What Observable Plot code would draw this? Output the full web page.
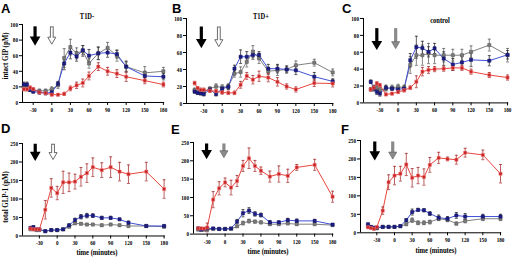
<!DOCTYPE html>
<html><head><meta charset="utf-8">
<script src="https://cdn.jsdelivr.net/npm/d3@7"></script>
<script src="https://cdn.jsdelivr.net/npm/@observablehq/plot@0.6"></script>
<style>
body{margin:0;background:#fff;}
#chart{position:relative;width:515px;height:258px;overflow:hidden;background:#fff;}
#chart svg{position:absolute;}
.lbl{position:absolute;font-family:"Liberation Serif",serif;font-weight:bold;font-size:8.3px;white-space:nowrap;color:#000;line-height:1;}
.let{position:absolute;font-family:"Liberation Sans",Arial,sans-serif;font-weight:bold;font-size:13px;line-height:1;color:#000;}
</style></head><body><div id="chart"></div>
<script>
// sampling times (minutes)
const times = [-45,-40,-35,-30,-20,-10,0,10,20,30,40,50,60,75,90,105,120,150,180];
const xTicks = [-30,0,30,60,90,120,150,180];
const gipTicks = [0,20,40,60,80,100];
const glpTicks = [0,50,100,150,200,250];

// Panel A  (T1D-, intact GIP)
const A_red     = [17,17,19,17,13,12,10,10,11,18,22,25,34,46,40,37,33,28,23];
const A_redErr  = [2,2,2,2,2,2,1.5,1.5,2,3,4,5,5,5,5,5,6,4,3];
const A_blue    = [23,23,16,14,13,12,13,24,50,64,59,67,60,63,64,62,46,34,33];
const A_blueErr = [3,3,2,2,2,2,2,3,8,8,6,6,8,8,6,5,7,6,4];
const A_gray    = [20,18,17,16,15,15,17,22,57,71,63,66,50,63,70,60,46,38,40];
const A_grayErr = [3,3,2,2,2,2,3,4,12,10,7,7,6,8,7,7,6,8,5];
// Panel B  (T1D+, intact GIP)
const B_red     = [24,18,16,16,15,14.5,13,12.5,12.5,22,32.5,28,32,30.5,25.5,20,16.5,24,23.5];
const B_redErr  = [2,2,2,2,2,2,2,2,2,4,4,5,6,5,5,3,3,4,4];
const B_blue    = [14,12.5,12,11,16.5,11,17.5,19.5,41,55,55,57,57,41,41,40,39,31.5,26];
const B_blueErr = [2,2,2,2,2,2,2,3,4,8,6,5,4,5,5,4,5,5,3];
const B_gray    = [16,15,14,14,17.5,20,19,20,35,37,49,61,53,38,39,40,45,48,36.5];
const B_grayErr = [2,2,2,2,2,3,3,3,4,6,6,7,6,4,6,4,5,4,4];
// Panel C  (control, intact GIP)
const C_red     = [16,18,23,21,10,11,13,15,18,25,37,39,40,40.5,41.5,41.5,37,33,30];
const C_redErr  = [2,2,2,2,1.5,1.5,2,2,2,7,5,4,3,3,3,3,3,3,3];
const C_blue    = [25,17,13,11,18,17,16,17,50.5,66,65,60.5,64.5,52.5,45.5,48,51,50,57];
const C_blueErr = [2,3,3,3,3,2,2,3,8,13,8,6,6,8,7,8,8,6,5];
const C_gray    = [16,18,18,15,17,18,19,18,45,56.5,56.5,58.5,56.5,56.5,56.5,56.5,60.5,68.5,56.5];
const C_grayErr = [2,3,3,3,3,3,3,3,10,12,12,12,10,8,7,7,7,7,8];
// Panel D  (T1D-, total GLP-1)
const D_red     = [20,18,18,18,71,130,116,145,145,147,160,170,186,178,186,174,167,174,127];
const D_redErr  = [0,0,0,2,25,25,18,30,25,20,25,25,25,20,28,25,25,25,25];
const D_blue    = [22,24,18,18,13,16,16,18,29,43,52,55,55,49,49,45,36,27,27];
const D_blueErr = [3,3,2,2,2,2,2,2,3,5,6,6,5,4,4,3,4,3,3];
const D_gray    = [18,18,16,16,13,16,16,18,25,34,33,31,31,29,31,29,27,27,25];
const D_grayErr = [2,2,2,2,2,2,2,2,3,3,3,3,3,3,3,3,3,3,3];
// Panel E  (T1D+, total GLP-1)
const E_red     = [15.5,15.5,15,18,94,125,141,127,145,186,207,186,173,157,164,159,182,189,102];
const E_redErr  = [3,3,3,12,22,18,12,20,15,15,28,15,10,15,22,18,8,15,15];
const E_blue    = [15.5,12,14,15.5,15.5,14,14,15.5,34,57,64,55,52,32,32,38,36,36,26];
const E_blueErr = [3,2,2,2,2,2,2,2,6,10,8,6,5,5,4,5,5,4,3];
const E_gray    = [12,12,12,12,14,14,14,14,21,30,35.5,34,32,27,27,29,27,27,24.5];
const E_grayErr = [2,2,2,2,2,2,2,2,3,5,5,4,4,3,3,3,3,3,3];
// Panel F  (control, total GLP-1)
const F_red     = [15,13,11,15,60,137,155,160,185,149,155,151,184,203,200,198,217,211,160];
const F_redErr  = [3,3,3,3,10,20,25,20,30,25,22,22,20,15,5,12,12,13,25];
const F_blue    = [23,16,14,14,16,16,16,18,34,56,62,61,52,41,38,47,44,44,44];
const F_blueErr = [3,2,2,2,2,2,2,2,4,8,4,4,5,7,6,8,8,6,6];
const F_gray    = [18,15,12,12,16,16,16,18,23,34,27,27,29,38,35,25,32,38,38];
const F_grayErr = [2,2,2,2,2,2,2,2,3,6,5,5,5,5,5,4,5,5,5];

// meal / drink arrows (time, top value, bottom value) per panel A..F
const arrowBlackT = [-27,-34,-35,-37,-31,-33.5];
const arrowGrayT  = [0,-5.5,-4,-7,-2,-3];
const arrowTopV   = [97,90,88,248,246,246];
const arrowBotV   = [75,67,64.5,207,209,200];

const panelNames = ["A","B","C","D","E","F"];
const titles = ["T1D-","T1D+","control"];
const yLabels = ["intact GIP (pM)","total GLP-1 (pM)"];
const xLabel = "time (minutes)";

const series = {
  A:[A_red,A_redErr,A_blue,A_blueErr,A_gray,A_grayErr],
  B:[B_red,B_redErr,B_blue,B_blueErr,B_gray,B_grayErr],
  C:[C_red,C_redErr,C_blue,C_blueErr,C_gray,C_grayErr],
  D:[D_red,D_redErr,D_blue,D_blueErr,D_gray,D_grayErr],
  E:[E_red,E_redErr,E_blue,E_blueErr,E_gray,E_grayErr],
  F:[F_red,F_redErr,F_blue,F_blueErr,F_gray,F_grayErr]
};

// layout (pixels)
const geom = {
  A:{axis:21.7, zero:51,    k:0.62,  y0:102.3, yTop:24.3,  yMax:100, hollow:true},
  B:{axis:186,  zero:221.7, k:0.614, y0:103.3, yTop:18.3,  yMax:100, hollow:true},
  C:{axis:362.7,zero:397.3, k:0.608, y0:102.7, yTop:18.3,  yMax:100, hollow:false},
  D:{axis:21.5, zero:56.2,  k:0.594, y0:235,   yTop:142.5, yMax:250, hollow:true},
  E:{axis:192.7,zero:224.3, k:0.597, y0:233.3, yTop:141.7, yMax:250, hollow:false},
  F:{axis:360,  zero:394,   k:0.589, y0:232.3, yTop:140,   yMax:250, hollow:false}
};
const styles = {
  gray:{line:"#808080", dot:"#7a7a7a", dotStroke:"#555", err:"#666"},
  blue:{line:"#3f4fd6", dot:"#1c1c86", dotStroke:"#101060", err:"#333"},
  red: {line:"#e8453c", dot:"#c42424", dotStroke:"#ff8080", err:"#a33"}
};

const chart = document.getElementById("chart");
const ml = 28, mr = 6, mt = 4, mb = 22;

panelNames.forEach((name, pi) => {
  const g = geom[name];
  const [red, redE, blue, blueE, gray, grayE] = series[name];
  const xmin = (g.axis - g.zero) / g.k;
  const xmax = 182;
  const plotW = (g.zero + xmax * g.k) - g.axis;
  const plotH = g.y0 - g.yTop;
  const W = ml + plotW + mr, H = mt + plotH + mb;
  const pxPerUnit = plotH / g.yMax;
  const capHalf = 1.5 / g.k;

  const mk = (vals, errs) => times.map((t, i) => ({t, v: vals[i], e: errs[i]}));
  const sets = [["gray", mk(gray, grayE)], ["blue", mk(blue, blueE)], ["red", mk(red, redE)]];

  const marks = [];
  // arrows
  const bt = arrowBlackT[pi], gt = arrowGrayT[pi], top = arrowTopV[pi], bot = arrowBotV[pi];
  const headC = bot + 4.5 / pxPerUnit;
  marks.push(Plot.ruleX([bt], {x: d => d, y1: top, y2: headC, stroke: "#000", strokeWidth: 3.2}));
  marks.push(Plot.dot([bt], {x: d => d, y: headC, symbol: "triangle", rotate: 180, r: 3, fill: "#000", stroke: "#000"}));
  if (g.hollow) {
    marks.push(Plot.ruleX([gt], {x: d => d, y1: top, y2: headC, stroke: "#6a6a6a", strokeWidth: 3.8}));
    marks.push(Plot.dot([gt], {x: d => d, y: headC, symbol: "triangle", rotate: 180, r: 3, fill: "#fff", stroke: "#6a6a6a", strokeWidth: 1}));
    marks.push(Plot.ruleX([gt], {x: d => d, y1: top - 1 / pxPerUnit, y2: headC, stroke: "#fff", strokeWidth: 1.8}));
  } else {
    marks.push(Plot.ruleX([gt], {x: d => d, y1: top, y2: headC, stroke: "#8a8a8a", strokeWidth: 3.2}));
    marks.push(Plot.dot([gt], {x: d => d, y: headC, symbol: "triangle", rotate: 180, r: 3, fill: "#8a8a8a", stroke: "#666", strokeWidth: 0.7}));
  }
  // axes lines
  marks.push(Plot.ruleY([0], {stroke: "#000", strokeWidth: 1}));
  marks.push(Plot.ruleX([xmin], {stroke: "#000", strokeWidth: 1}));
  // lines
  sets.forEach(([s, data]) => marks.push(Plot.line(data, {x: "t", y: "v", stroke: styles[s].line, strokeWidth: 1})));
  // error bars
  sets.forEach(([s, data]) => {
    const ed = data.filter(d => d.e > 0);
    marks.push(Plot.ruleX(ed, {x: "t", y1: d => d.v - d.e, y2: d => d.v + d.e, stroke: styles[s].err, strokeWidth: 0.8}));
    marks.push(Plot.link(ed, {x1: d => d.t - capHalf, x2: d => d.t + capHalf, y1: d => d.v + d.e, y2: d => d.v + d.e, stroke: styles[s].err, strokeWidth: 0.8}));
    marks.push(Plot.link(ed, {x1: d => d.t - capHalf, x2: d => d.t + capHalf, y1: d => d.v - d.e, y2: d => d.v - d.e, stroke: styles[s].err, strokeWidth: 0.8}));
  });
  // markers
  sets.forEach(([s, data]) => marks.push(Plot.dot(data, {x: "t", y: "v", symbol: "square", r: 1.8, fill: styles[s].dot, stroke: styles[s].dotStroke, strokeWidth: 0.5})));
  // axes
  marks.push(Plot.axisX({ticks: xTicks, tickSize: 3, tickPadding: 1.5, tickFormat: d => String(d), label: null}));
  marks.push(Plot.axisY({ticks: g.yMax === 100 ? gipTicks : glpTicks, tickSize: 3, tickPadding: 1.5, tickFormat: d => String(d), label: null}));

  const svg = Plot.plot({
    width: W, height: H,
    marginLeft: ml, marginRight: mr, marginTop: mt, marginBottom: mb,
    x: {domain: [xmin, xmax]},
    y: {domain: [0, g.yMax]},
    style: {fontFamily: "'Liberation Serif', serif", fontSize: "7px", fontWeight: "bold", background: "transparent", color: "#000", overflow: "visible"},
    marks
  });
  svg.style.left = (g.axis - ml) + "px";
  svg.style.top = (g.yTop - mt) + "px";
  chart.appendChild(svg);
  // condense tick labels horizontally, like the reference figure
  svg.querySelectorAll("text").forEach(t => {
    const len = t.getComputedTextLength();
    if (len > 0) {
      t.setAttribute("textLength", (len * 0.74).toFixed(2));
      t.setAttribute("lengthAdjust", "spacingAndGlyphs");
    }
  });
});

function addText(cls, text, css, transform) {
  const d = document.createElement("div");
  d.className = cls;
  d.textContent = text;
  Object.assign(d.style, css);
  if (transform) d.style.transform = transform;
  chart.appendChild(d);
  return d;
}
// panel letters
const letterPos = [[1,1.5],[172,1.5],[342,1.5],[1,122],[171,123],[341,123]];
panelNames.forEach((n, i) => addText("let", n, {left: letterPos[i][0] + "px", top: letterPos[i][1] + "px"}));
// titles
const titlePos = [[87,17],[261,17],[440,21]];
titles.forEach((t, i) => addText("lbl", t, {left: titlePos[i][0] + "px", top: titlePos[i][1] + "px"}, "translate(-50%,-50%) scaleX(0.78)"));
// x labels
[[97,252.5],[268,251.7],[436,251]].forEach(([x, y]) => addText("lbl", xLabel, {left: x + "px", top: y + "px"}, "translate(-50%,-50%) scaleX(0.8)"));
// y labels
[[6,56],[6,197]].forEach(([x, y], i) => addText("lbl", yLabels[i], {left: x + "px", top: y + "px"}, "translate(-50%,-50%) rotate(-90deg) scaleX(0.83)"));
</script>
</body></html>
